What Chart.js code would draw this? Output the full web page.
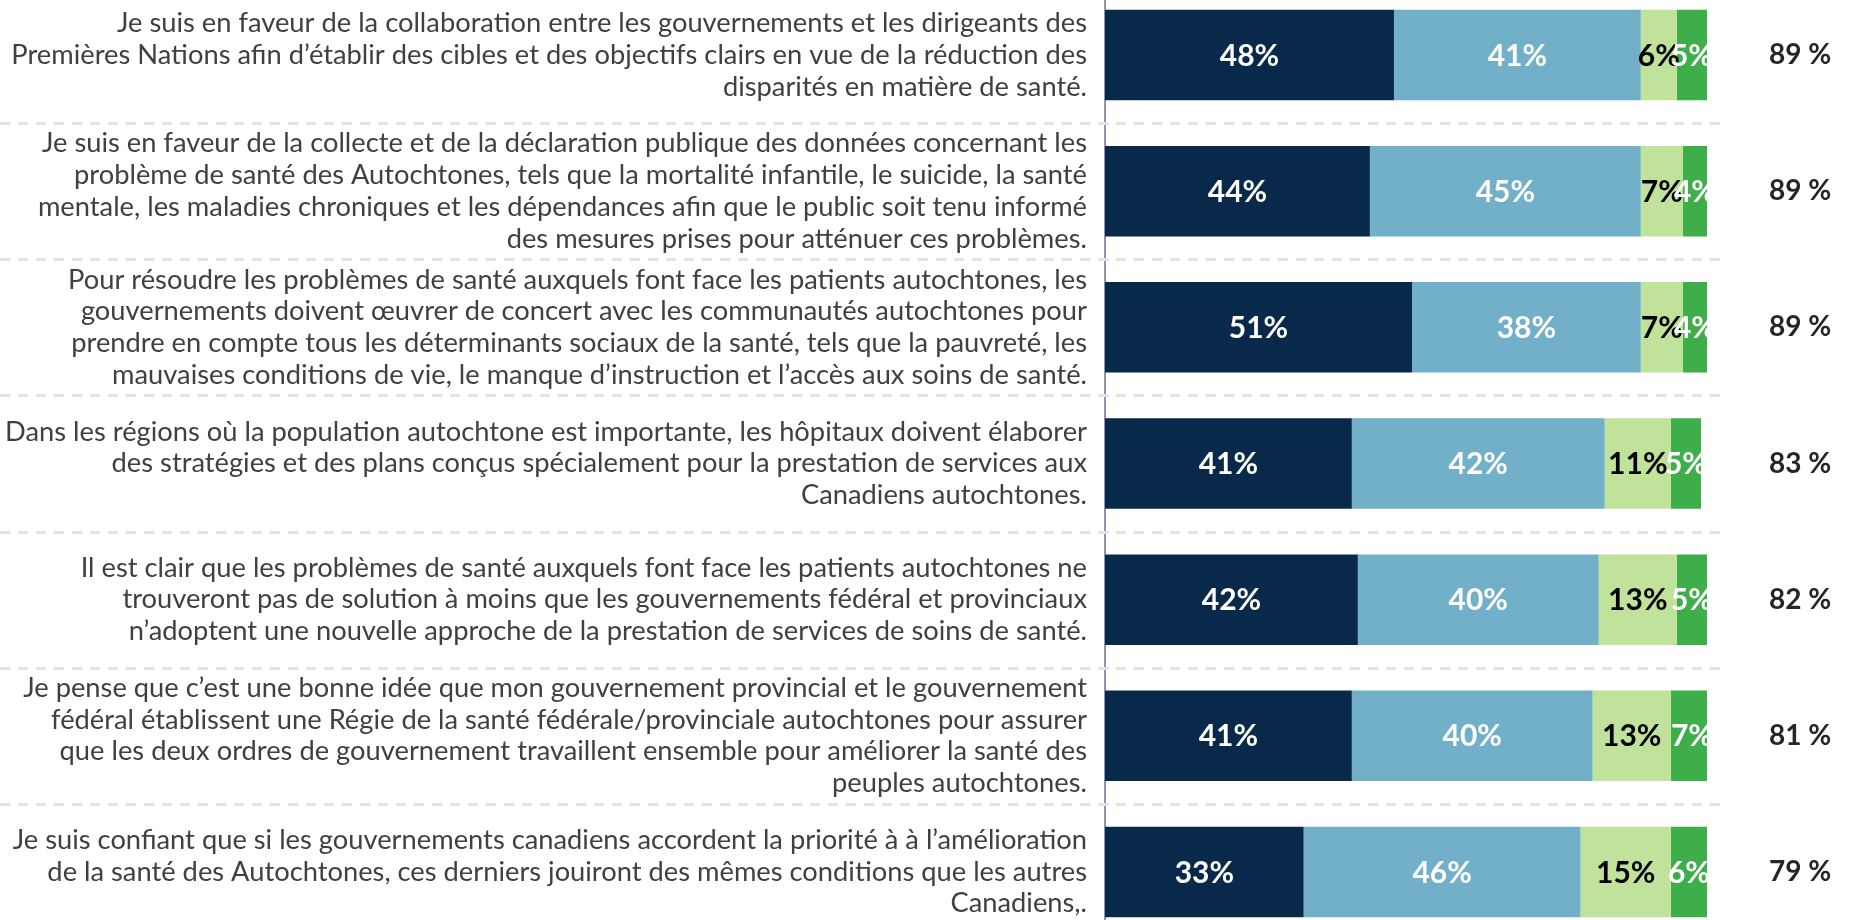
<!DOCTYPE html>
<html><head><meta charset="utf-8">
<script src="https://cdn.jsdelivr.net/npm/chart.js@4.4.1/dist/chart.umd.min.js"></script>
<style>
html,body{margin:0;padding:0;width:1852px;height:920px;overflow:hidden;background:#fff;}
#wrap{position:absolute;left:0;top:-13px;width:1852px;height:953px;}
</style></head><body>
<div id="wrap"><canvas id="c"></canvas></div>
<script>
const categories = [
  ["Je suis en faveur de la collaboration entre les gouvernements et les dirigeants des",
   "Premières Nations afin d’établir des cibles et des objectifs clairs en vue de la réduction des",
   "disparités en matière de santé."],
  ["Je suis en faveur de la collecte et de la déclaration publique des données concernant les",
   "problème de santé des Autochtones, tels que la mortalité infantile, le suicide, la santé",
   "mentale, les maladies chroniques et les dépendances afin que le public soit tenu informé",
   "des mesures prises pour atténuer ces problèmes."],
  ["Pour résoudre les problèmes de santé auxquels font face les patients autochtones, les",
   "gouvernements doivent œuvrer de concert avec les communautés autochtones pour",
   "prendre en compte tous les déterminants sociaux de la santé, tels que la pauvreté, les",
   "mauvaises conditions de vie, le manque d’instruction et l’accès aux soins de santé."],
  ["Dans les régions où la population autochtone est importante, les hôpitaux doivent élaborer",
   "des stratégies et des plans conçus spécialement pour la prestation de services aux",
   "Canadiens autochtones."],
  ["Il est clair que les problèmes de santé auxquels font face les patients autochtones ne",
   "trouveront pas de solution à moins que les gouvernements fédéral et provinciaux",
   "n’adoptent une nouvelle approche de la prestation de services de soins de santé."],
  ["Je pense que c’est une bonne idée que mon gouvernement provincial et le gouvernement",
   "fédéral établissent une Régie de la santé fédérale/provinciale autochtones pour assurer",
   "que les deux ordres de gouvernement travaillent ensemble pour améliorer la santé des",
   "peuples autochtones."],
  ["Je suis confiant que si les gouvernements canadiens accordent la priorité à à l’amélioration",
   "de la santé des Autochtones, ces derniers jouiront des mêmes conditions que les autres",
   "Canadiens,."]
];
const seriesNames = ["Tout à fait d’accord", "Plutôt d’accord", "Plutôt en désaccord", "Tout à fait en désaccord"];
const stronglyAgree    = [48, 44, 51, 41, 42, 41, 33];
const somewhatAgree    = [41, 45, 38, 42, 40, 40, 46];
const somewhatDisagree = [6, 7, 7, 11, 13, 13, 15];
const stronglyDisagree = [5, 4, 4, 5, 5, 7, 6];
const totalAgree       = [89, 89, 89, 83, 82, 81, 79];
const totalLabels = totalAgree.map(v => v + ' %');

// fit label font size so the widest line matches the reference text column
const mctx = document.createElement('canvas').getContext('2d');
mctx.font = '100px Lato';
let widest = 0;
categories.forEach(lines => lines.forEach(l => { widest = Math.max(widest, mctx.measureText(l).width); }));
const labelSize = Math.round(1081 / widest * 100 * 10) / 10;

const separators = {
  id: 'separators',
  beforeDatasetsDraw(chart) {
    const ys = chart.scales.y, ctx = chart.ctx;
    ctx.save();
    ctx.strokeStyle = '#e2e2e2';
    ctx.lineWidth = 3;
    ctx.setLineDash([10, 8]);
    for (let i = 0; i < ys.ticks.length - 1; i++) {
      const p = Math.round((ys.getPixelForTick(i) + ys.getPixelForTick(i + 1)) / 2) + 0.5;
      ctx.beginPath();
      ctx.moveTo(0, p);
      ctx.lineTo(chart.chartArea.right + 21, p);
      ctx.stroke();
    }
    ctx.restore();
  }
};

const barLabels = {
  id: 'barLabels',
  afterDatasetsDraw(chart) {
    const ctx = chart.ctx;
    ctx.save();
    ctx.font = 'bold 30px Lato';
    ctx.textAlign = 'center';
    ctx.textBaseline = 'middle';
    chart.data.datasets.forEach((ds, di) => {
      const meta = chart.getDatasetMeta(di);
      meta.data.forEach((el, i) => {
        const c = el.getCenterPoint();
        ctx.fillStyle = ds.labelColor;
        ctx.fillText(ds.data[i] + '%', c.x, c.y + 1);
      });
    });
    ctx.restore();
  }
};

function noPad(s) { s.paddingTop = 0; s.paddingBottom = 0; }

new Chart(document.getElementById('c'), {
  type: 'bar',
  data: {
    labels: categories,
    datasets: [
      { label: seriesNames[0], data: stronglyAgree,    backgroundColor: '#08294a', labelColor: '#ffffff' },
      { label: seriesNames[1], data: somewhatAgree,    backgroundColor: '#72b0c9', labelColor: '#ffffff' },
      { label: seriesNames[2], data: somewhatDisagree, backgroundColor: '#c1e29b', labelColor: '#000000' },
      { label: seriesNames[3], data: stronglyDisagree, backgroundColor: '#3dae4a', labelColor: '#ffffff' }
    ]
  },
  options: {
    indexAxis: 'y',
    responsive: true,
    maintainAspectRatio: false,
    animation: false,
    devicePixelRatio: 1,
    layout: { padding: 0 },
    datasets: { bar: { categoryPercentage: 1, barPercentage: 0.665, borderWidth: 0 } },
    plugins: { legend: { display: false }, tooltip: { enabled: false } },
    scales: {
      x: { stacked: true, min: 0, max: 100, display: false },
      y: {
        stacked: true, position: 'left', offset: true,
        grid: { display: false, drawTicks: false },
        border: { display: true, color: '#8c96ae', width: 2 },
        ticks: { color: '#404040', autoSkip: false, padding: 18,
                 font: { family: 'Lato', size: labelSize, lineHeight: '31.7px' } },
        afterFit(s) { s.width = 1105; noPad(s); }
      },
      y2: {
        type: 'category', labels: totalLabels, position: 'right', offset: true,
        grid: { display: false, drawTicks: false },
        border: { display: false },
        ticks: { color: '#262626', autoSkip: false, padding: 62,
                 font: { family: 'Lato', size: 28, weight: 'bold' } },
        afterFit(s) { s.width = 145; noPad(s); }
      }
    }
  },
  plugins: [separators, barLabels]
});
</script>
</body></html>
